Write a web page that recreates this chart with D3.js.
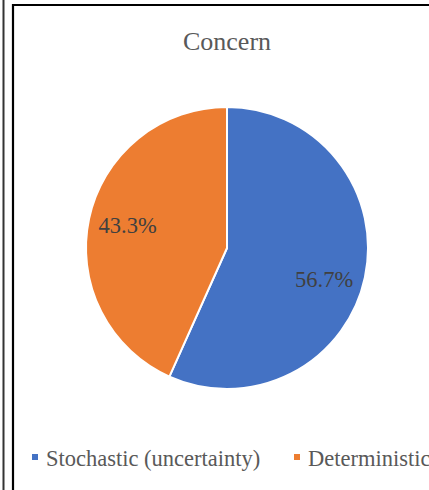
<!DOCTYPE html>
<html>
<head>
<meta charset="utf-8">
<script src="https://cdn.jsdelivr.net/npm/d3@7/dist/d3.min.js"></script>
<style>
  html, body { margin: 0; padding: 0; background: #fff; }
  svg { display: block; }
</style>
</head>
<body>
<svg id="chart" width="429" height="490"></svg>
<script>
// Share of concern by type
const categories = ["Stochastic (uncertainty)", "Deterministic"];
const shares = [56.7, 43.3];
const colors = ["#4472C4", "#ED7D31"];
const title = "Concern";

const W = 429, H = 490;
const FONT = "Liberation Serif";
const svg = d3.select("#chart");

svg.append("rect").attr("width", W).attr("height", H).attr("fill", "#fff");

// Frame lines
svg.append("line").attr("x1", 3.5).attr("x2", 3.5).attr("y1", 0).attr("y2", H)
  .attr("stroke", "#333").attr("stroke-width", 2);
svg.append("line").attr("x1", 13).attr("x2", 13).attr("y1", 4).attr("y2", H)
  .attr("stroke", "#000").attr("stroke-width", 2.2);
svg.append("line").attr("x1", 12).attr("x2", W).attr("y1", 5).attr("y2", 5)
  .attr("stroke", "#000").attr("stroke-width", 2.2);

// Title
svg.append("text")
  .attr("x", 227).attr("y", 50)
  .attr("text-anchor", "middle")
  .style("font-family", FONT)
  .attr("font-size", 26)
  .attr("fill", "#595959")
  .text(title);

// Pie
const cx = 227, cy = 248, R = 141;
const data = categories.map((c, i) => ({ category: c, value: shares[i], color: colors[i] }));
const pie = d3.pie().value(d => d.value).sort(null);
const arcs = pie(data);
const arc = d3.arc().innerRadius(0).outerRadius(R);

const g = svg.append("g").attr("transform", `translate(${cx},${cy})`);
g.selectAll("path.slice")
  .data(arcs)
  .join("path")
  .attr("class", "slice")
  .attr("d", arc)
  .attr("fill", d => d.data.color)
  .attr("stroke", "#fff")
  .attr("stroke-width", 2)
  .attr("stroke-linejoin", "round");

// Percentage labels (best-fit placement nudges the larger slice's label downward)
const labelNudge = [0.1, 0.015];
g.selectAll("text.pct")
  .data(arcs)
  .join("text")
  .attr("class", "pct")
  .attr("transform", (d, i) => {
    const a = (d.startAngle + d.endAngle) / 2 + labelNudge[i];
    const r = 102;
    return `translate(${r * Math.sin(a)},${-r * Math.cos(a)})`;
  })
  .attr("dy", "0.33em")
  .attr("text-anchor", "middle")
  .style("font-family", FONT)
  .attr("font-size", 22.5)
  .attr("fill", "#404040")
  .text(d => d.data.value.toFixed(1) + "%");

// Legend: horizontal row of swatch + label
const legendX = d3.scalePoint().domain(categories).range([32, 294]);
const items = svg.append("g").selectAll("g.item")
  .data(data)
  .join("g")
  .attr("class", "item")
  .attr("transform", d => `translate(${legendX(d.category)},457)`);
items.append("rect").attr("x", 0).attr("y", -3).attr("width", 6).attr("height", 6)
  .attr("fill", d => d.color);
items.append("text")
  .attr("x", 14).attr("y", 9)
  .style("font-family", FONT)
  .attr("font-size", 22.5)
  .attr("fill", "#595959")
  .text(d => d.category);
</script>
</body>
</html>
